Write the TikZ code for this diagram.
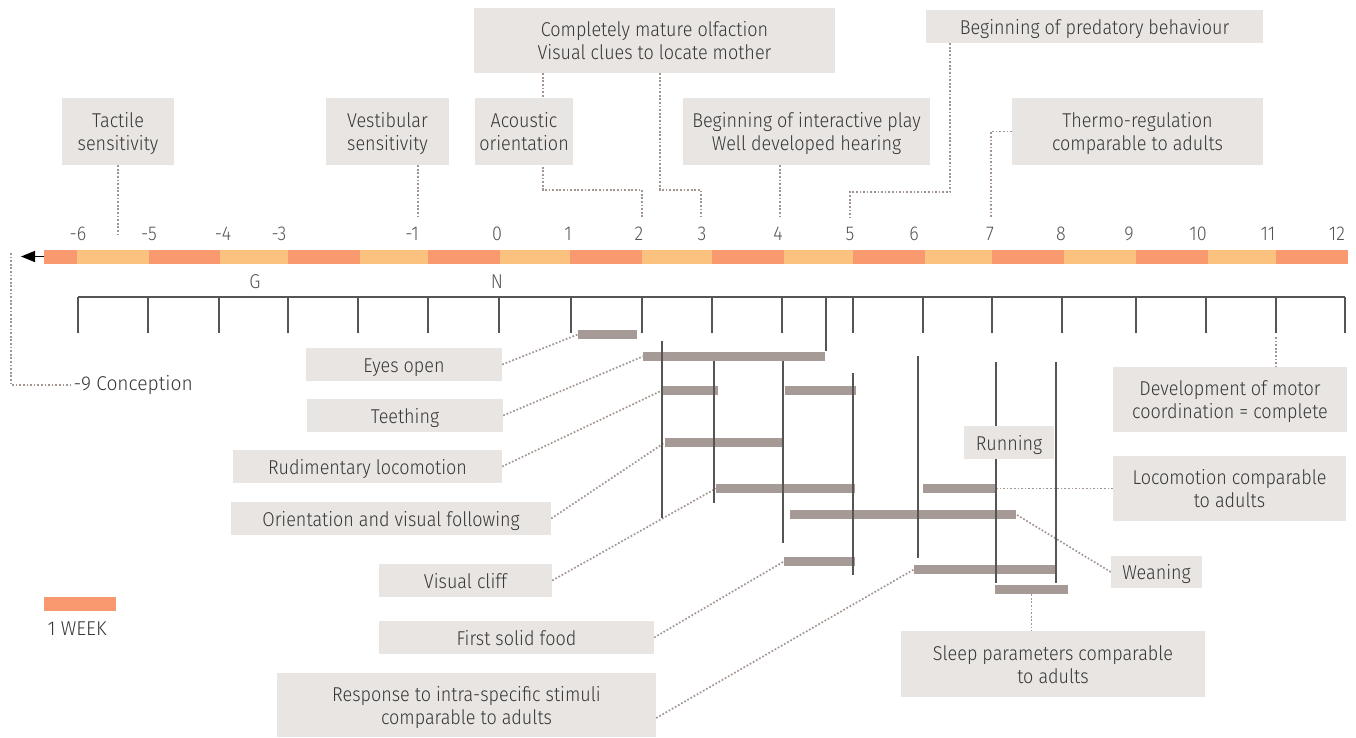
\documentclass[tikz,border=0pt]{standalone}
\usepackage{fontspec}
\setmainfont{Fira Sans Light}[FakeStretch=0.9]
\usetikzlibrary{arrows.meta,calc}

\definecolor{boxfill}{HTML}{E8E5E2}
\definecolor{bargray}{HTML}{A69A96}
\definecolor{dotgray}{HTML}{A39590}
\definecolor{wkdark}{HTML}{F8996F}
\definecolor{wklight}{HTML}{FBC17E}
\definecolor{txt}{HTML}{363636}
\definecolor{tickgray}{HTML}{555555}

\pgfdeclarelayer{back}
\pgfsetlayers{back,main}

% labelled box given by its corners: name, x1, y1, x2, y2, text
\newcommand\labelbox[6]{%
  \node[box, minimum width={#4-#2}, minimum height={#5-#3}] (#1)
    at ({(#2+#4)/2},{(#3+#5)/2})
    {\raisebox{-3pt}[\height][\depth]{\begin{tabular}{@{}c@{}}#6\end{tabular}}};}
% duration bar: name, x1, x2, y1, y2
\newcommand\spanbar[5]{%
  \node[spanbarstyle, minimum width={#3-#2}, minimum height={#5-#4}] (#1)
    at ({(#2+#3)/2},{(#4+#5)/2}) {};}

\begin{document}
\begin{tikzpicture}[x=1pt,y=-1pt,
  every node/.style={font=\fontsize{20}{23}\selectfont, text=txt},
  box/.style={fill=boxfill, inner sep=0pt, align=center},
  spanbarstyle/.style={fill=bargray, inner sep=0pt},
  conn/.style={draw=dotgray, line width=1.7pt, dash pattern=on 1.7pt off 1.9pt},
  tickline/.style={draw=tickgray, line width=1.1pt},
  numlabel/.style={inner sep=0pt, text=txt!85!white},
  freelabel/.style={anchor=west, font=\fontsize{20}{23}\selectfont\addfontfeature{FakeStretch=0.96}}]

\useasboundingbox (0,0) rectangle (1356,737);

% week strip
\foreach \a/\b/\c in {44/77/wkdark, 77/149/wklight, 149/220/wkdark, 220/288/wklight,
  288/360/wkdark, 360/428/wklight, 428/500/wkdark, 500/570/wklight, 570/642/wkdark,
  642/712/wklight, 712/784/wkdark, 784/853/wklight, 853/925/wkdark, 925/992/wklight,
  992/1064/wkdark, 1064/1136/wklight, 1136/1208/wkdark, 1208/1276/wklight, 1276/1348/wkdark}
  \fill[\c] (\a,250) rectangle (\b,263.5);

% arrow to conception
\coordinate (stripstart) at (44,256.5);
\coordinate (tipend) at (21,256.5);
\draw[line width=1.6pt, -{Triangle[length=14pt,width=11pt]}] (stripstart) -- (tipend);

% week numbers
\foreach \x/\t [count=\i] in {78/-6, 149/-5, 223/-4, 279/-3, 412/-1, 497/0, 568/1, 639/2,
  702/3, 778/4, 850/5, 914/6, 990/7, 1061/8, 1129/9, 1198/10, 1268/11, 1337/12}
  \node[numlabel] (wk\i) at (\x,234) {\t};

\node[numlabel] (gest) at (255,282) {G};
\node[numlabel] (birth) at (497,282) {N};

% scale with ticks
\draw[tickline] (78,297) -- (1345,297);
\foreach \x in {78,148,219,288,358,428,499,571,642,712,782,853,923,992,1062,1136,1206,1276,1345}
  \draw[tickline] (\x,297) -- (\x,333);
\draw[tickline] (826,297) -- (826,351);

% duration bars
\spanbar{b1}{578}{637}{330}{339}
\spanbar{b2}{643}{825}{352}{361}
\spanbar{b3a}{662}{718}{386}{395}
\spanbar{b3b}{785}{856}{386}{395}
\spanbar{b4}{665}{783}{438}{447}
\spanbar{b5a}{716}{855}{484}{493}
\spanbar{b5b}{923}{995}{484}{493}
\spanbar{b6}{790}{1016}{510}{519}
\spanbar{b7}{784}{855}{557}{566}
\spanbar{b8}{914}{1055}{565}{574}
\spanbar{b9}{995}{1068}{585}{594}

% vertical guide lines
\foreach \x/\ya/\yb in {662/341/518, 714/361/503, 783/361/543, 853/373/575,
  918/356/558, 996/362/583, 1056/362/583}
  \draw[tickline] (\x,\ya) -- (\x,\yb);

% upper labels
\labelbox{tactile}{62}{98}{174}{165}{Tactile\\sensitivity}
\labelbox{vest}{326}{98}{449}{165}{Vestibular\\sensitivity}
\labelbox{acou}{475}{98}{573}{165}{Acoustic\\orientation}
\labelbox{play}{683}{98}{930}{165}{Beginning of interactive play\\Well developed hearing}
\labelbox{thermo}{1012}{98}{1263}{165}{Thermo-regulation\\comparable to adults}
\labelbox{olf}{474}{8}{835}{73}{Completely mature olfaction\\Visual clues to locate mother}
\labelbox{pred}{926}{10}{1263}{43}{Beginning of predatory behaviour}

% lower labels
\labelbox{eyes}{306}{348}{502}{381}{Eyes open}
\labelbox{teeth}{307}{399}{503}{432}{Teething}
\labelbox{rudi}{233}{450}{502}{483}{Rudimentary locomotion}
\labelbox{orient}{231}{502}{551}{535}{Orientation and visual following}
\labelbox{cliff}{379}{564}{552}{597}{Visual cliff}
\labelbox{food}{379}{621}{654}{654}{First solid food}
\labelbox{resp}{277}{673}{656}{737}{Response to intra-specific stimuli\\comparable to adults}
\labelbox{motor}{1113}{367}{1347}{432}{Development of motor\\coordination = complete}
\labelbox{run}{964}{426}{1054}{459}{Running}
\labelbox{loco}{1113}{456}{1346}{521}{Locomotion comparable\\to adults}
\labelbox{wean}{1111}{556}{1202}{588}{Weaning}
\labelbox{sleep}{901}{631}{1205}{697}{Sleep parameters comparable\\to adults}

\node[freelabel] (concep) at (70,385) {-9 Conception};

% legend
\fill[wkdark] (44,597) rectangle (116,611);
\node[freelabel] (week) at (44,629) {1 WEEK};

% dotted connectors
\coordinate (mtac) at (118,237);
\coordinate (mvest) at (418,217);
\coordinate (kac) at (543,190);
\coordinate (mtwo) at (642,217);
\coordinate (kolf) at (660,190);
\coordinate (mthree) at (701,217);
\coordinate (mfour) at (780,217);
\coordinate (kpred) at (950,192);
\coordinate (mfive) at (850,217);
\coordinate (mseven) at (991,217);
\coordinate (tick11) at (1276,337);
\coordinate (conc) at (11,253);

\begin{pgfonlayer}{back}
\draw[conn] (tactile.south) -- (mtac);
\draw[conn] (mvest |- vest.south) -- (mvest);
\draw[conn] (kac |- olf.south) -- (kac) -| (mtwo);
\draw[conn] (kolf |- olf.south) -- (kolf) -| (mthree);
\draw[conn] (mfour |- play.south) -- (mfour);
\draw[conn] (kpred |- pred.south) -- (kpred) -| (mfive);
\draw[conn] (thermo.west) -| (mseven);
\draw[conn] (conc) |- (concep.west);

\draw[conn] (eyes.east) -- (b1.west);
\draw[conn] (teeth.east) -- (b2.west);
\draw[conn] (rudi.east) -- (b3a.west);
\draw[conn] (orient.east) -- (b4.west);
\draw[conn] (cliff.east) -- (b5a.west);
\draw[conn] (food.east) -- (b7.west);
\draw[conn] ($(resp.east)+(0,13)$) -- (b8.west);
\draw[conn] (wean.west) -- (b6.east);
\draw[conn] (loco.west) -- (b5b.east);
\draw[conn] (b9.south) -- (b9.south |- sleep.north);
\draw[conn] (tick11) -- (tick11 |- motor.north);
\end{pgfonlayer}

\end{tikzpicture}
\end{document}
